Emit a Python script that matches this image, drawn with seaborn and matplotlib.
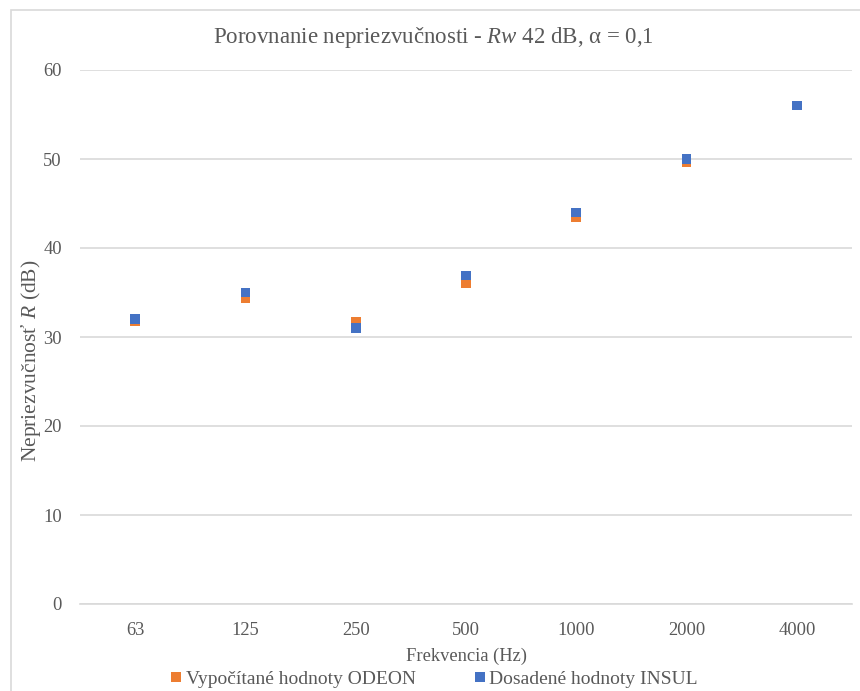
import matplotlib
matplotlib.use("Agg")
import matplotlib.pyplot as plt
import seaborn as sns
import pandas as pd
from matplotlib.patches import Rectangle
from matplotlib.lines import Line2D

frequencies = ["63", "125", "250", "500", "1000", "2000", "4000"]
odeon = [31.8, 34.4, 31.7, 36.1, 43.5, 49.6, 56.0]
insul = [32.0, 35.0, 31.0, 36.9, 44.0, 50.0, 56.0]
series_names = ["Vypočítané hodnoty ODEON", "Dosadené hodnoty INSUL"]
colors = ["#ED7D31", "#4472C4"]
yticks = [0, 10, 20, 30, 40, 50, 60]

sns.set_theme(style="white")
plt.rcParams['font.family'] = ['Liberation Serif', 'DejaVu Serif']
plt.rcParams['mathtext.fontset'] = 'custom'
plt.rcParams['mathtext.rm'] = 'Liberation Serif'
plt.rcParams['mathtext.it'] = 'Liberation Serif:italic'

df = pd.DataFrame({
    "freq": frequencies * 2,
    "R": odeon + insul,
    "series": [series_names[0]] * len(frequencies) + [series_names[1]] * len(frequencies),
})

fig = plt.figure(figsize=(8.6, 6.91), dpi=100)
ax = fig.add_axes([80 / 860, 1 - 604 / 691, 772 / 860, 534 / 691])

sns.scatterplot(data=df, x="freq", y="R", hue="series", palette=colors,
                marker="s", s=48, linewidth=0, ax=ax, legend=False, zorder=3)

ax.set_xlim(-0.5, len(frequencies) - 0.5)
ax.set_ylim(0, 60)
ax.set_yticks(yticks)
ax.yaxis.grid(True, color="#D9D9D9", linewidth=1.2)
ax.set_axisbelow(True)
for s in ["left", "right", "top"]:
    ax.spines[s].set_visible(False)
ax.spines["bottom"].set_color("#D9D9D9")
ax.spines["bottom"].set_linewidth(1.2)
ax.tick_params(axis="both", length=0, labelsize=13.3, colors="#595959")
ax.tick_params(axis="y", pad=13)
ax.tick_params(axis="x", pad=13)

ax.set_xlabel("Frekvencia (Hz)", fontsize=13.3, color="#595959", labelpad=6)
ax.set_ylabel("Nepriezvučnosť $\\mathit{R}$ (dB)", fontsize=15.5, color="#595959", labelpad=0)
ax.yaxis.label.set_y((604 - 361) / 534)

fig.text(433 / 860, 1 - 38 / 691, "Porovnanie nepriezvučnosti - $\\mathit{Rw}$ 42 dB, α = 0,1",
         ha="center", va="center", fontsize=16.5, color="#595959")

handles = [Line2D([0], [0], marker="s", linestyle="", markersize=7,
                  markerfacecolor=c, markeredgewidth=0) for c in colors]
fig.legend(handles, series_names, loc="center", bbox_to_anchor=(434 / 860, 1 - 679 / 691),
           ncol=2, frameon=False, fontsize=14, labelcolor="#595959",
           handlelength=0.6, handletextpad=0.2, columnspacing=3.0)

border = Rectangle((11 / 860, -0.01), 1.0, 1 - 10 / 691 + 0.01, transform=fig.transFigure,
                   fill=False, edgecolor="#D9D9D9", linewidth=1.2, clip_on=False)
fig.patches.append(border)

fig.savefig("out.png", dpi=100, facecolor="white")
